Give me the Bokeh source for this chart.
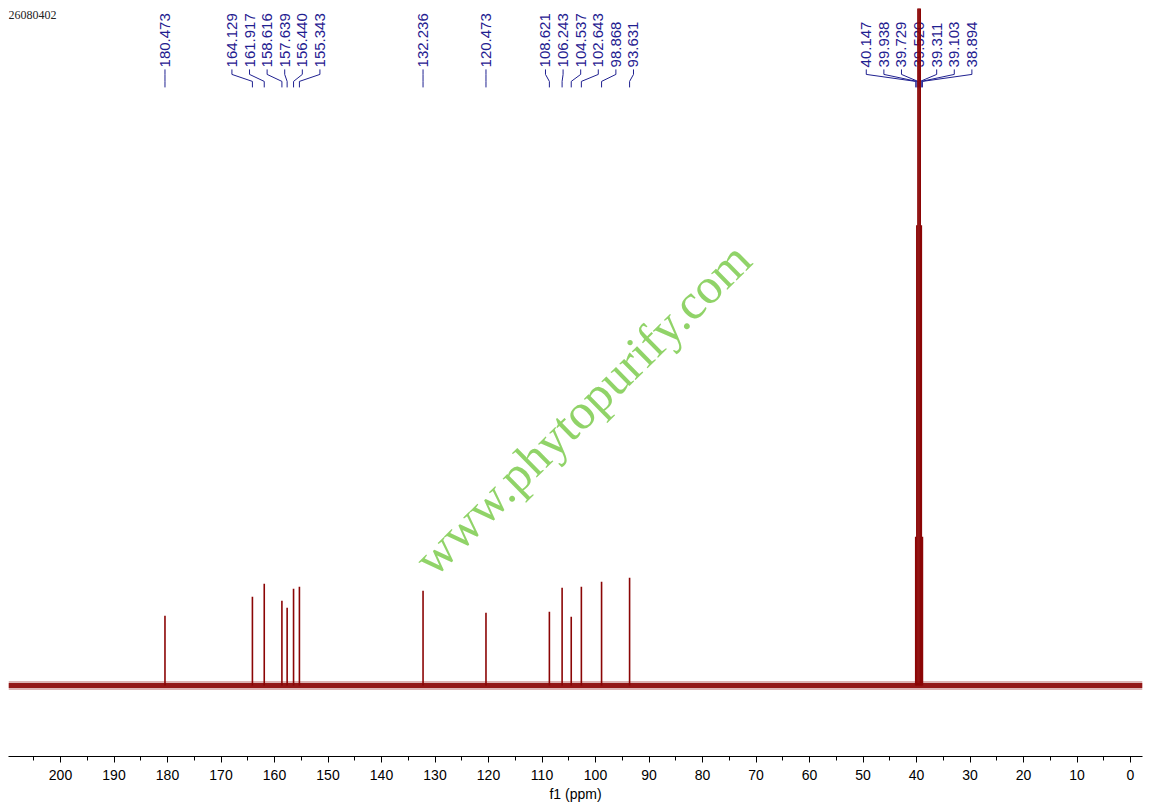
import math
from bokeh.plotting import figure
from bokeh.models import Range1d, SingleIntervalTicker, Label
from bokeh.core.properties import value
from bokeh.embed import file_html
from bokeh.resources import INLINE

# ---------------- data ----------------
sample_id = "26080402"
watermark = "www.phytopurify.com"
axis_title = "f1 (ppm)"

peak_ppm = [180.473, 164.129, 161.917, 158.616, 157.639, 156.440, 155.343,
            132.236, 120.473, 108.621, 106.243, 104.537, 102.643, 98.868, 93.631]
peak_height = [0.70, 0.89, 1.02, 0.85, 0.78, 0.97, 0.99,
               0.95, 0.73, 0.74, 0.98, 0.69, 0.99, 1.04, 1.08]

solvent_ppm = [40.147, 39.938, 39.729, 39.520, 39.311, 39.103, 38.894]
solvent_height = [1.49, 4.61, 8.9, 10.4, 8.9, 4.61, 1.49]

# ---------------- layout ----------------
W, H = 1150, 804
MARGIN = 8
FRAME_W = W - 2 * MARGIN
FRAME_H = 749.0
X_START, X_END = 209.72, -2.24
Y_START, Y_END = -0.71, 6.78

px_x = (X_START - X_END) / FRAME_W    # ppm per pixel
px_y = (Y_END - Y_START) / FRAME_H    # intensity per pixel


def y_from_top(px):
    return Y_END - px * px_y


p = figure(width=W, height=H, output_backend="svg", toolbar_location=None,
           x_range=Range1d(X_START, X_END), y_range=Range1d(Y_START, Y_END),
           y_axis_location=None, min_border_left=MARGIN, min_border_right=MARGIN,
           min_border_top=MARGIN, min_border_bottom=0)
p.outline_line_color = None
p.xgrid.visible = False
p.ygrid.visible = False
p.background_fill_color = "white"
p.border_fill_color = "white"

ax = p.xaxis[0]
ax.ticker = SingleIntervalTicker(interval=10, num_minor_ticks=2)
ax.axis_line_color = "black"
ax.axis_line_width = 1
ax.major_tick_line_color = "black"
ax.minor_tick_line_color = "black"
ax.major_tick_in = 0
ax.major_tick_out = 6
ax.minor_tick_in = 0
ax.minor_tick_out = 4
ax.major_label_standoff = 7
ax.major_label_text_font = "Liberation Sans"
ax.major_label_text_font_size = "14px"
ax.major_label_text_color = "black"
ax.axis_label = axis_title
ax.axis_label_standoff = 3
ax.axis_label_text_font = "Liberation Sans"
ax.axis_label_text_font_size = "14px"
ax.axis_label_text_font_style = "normal"
ax.axis_label_text_color = "black"

# ---------------- watermark ----------------
wx = X_START + 0.506 * (X_END - X_START)
wy = Y_START + 0.465 * (Y_END - Y_START)
p.text(x=[wx], y=[wy], text=[watermark], angle=math.radians(44.6),
       text_align="center", text_baseline="middle",
       text_font=value("Liberation Serif"), text_font_size=value("50px"),
       text_color="#8ad160", text_alpha=0.95)

# ---------------- peak labels ----------------
all_ppm = sorted(peak_ppm + solvent_ppm, reverse=True)
pitch = 17.6 * px_x
groups = [[all_ppm[0]]]
for v in all_ppm[1:]:
    if groups[-1][-1] - v < 6.0:
        groups[-1].append(v)
    else:
        groups.append([v])

label_x, label_peak = [], []
for g in groups:
    n = len(g)
    c = (g[0] + g[-1]) / 2
    for i, v in enumerate(g):
        label_x.append(c + (n - 1) / 2 * pitch - i * pitch)
        label_peak.append(v)

text_y = y_from_top(59)
p.text(x=label_x, y=[text_y] * len(label_x), text=[f"{v:.3f}" for v in label_peak],
       angle=math.pi / 2, text_align="left", text_baseline="middle",
       text_font=value("Liberation Sans"), text_font_size=value("15px"),
       text_color="#1f2090")

lead_xs, lead_ys = [], []
for lx, v in zip(label_x, label_peak):
    lead_xs.append([lx, lx, v, v])
    lead_ys.append([y_from_top(61), y_from_top(66), y_from_top(73), y_from_top(79)])
p.multi_line(xs=lead_xs, ys=lead_ys, line_color="#1f2090", line_width=1)

# ---------------- spectrum ----------------
red = "#8b0505"
p.line(x=[X_START, X_END], y=[0, 0], line_color=red, line_width=9, line_alpha=0.3)
p.line(x=[X_START, X_END], y=[0, 0], line_color=red, line_width=5, line_alpha=0.9)
p.segment(x0=peak_ppm, y0=[0] * len(peak_ppm), x1=peak_ppm, y1=peak_height,
          line_color=red, line_width=1.6)
p.segment(x0=solvent_ppm, y0=[0] * len(solvent_ppm), x1=solvent_ppm, y1=solvent_height,
          line_color=red, line_width=1.6)

# ---------------- sample id ----------------
p.add_layout(Label(x=X_START, y=Y_END, y_offset=-2, text=sample_id,
                   text_align="left", text_baseline="top",
                   text_font="Liberation Serif", text_font_size="12px",
                   text_color="#222222"))

open("out.html", "w").write(file_html(p, INLINE))
